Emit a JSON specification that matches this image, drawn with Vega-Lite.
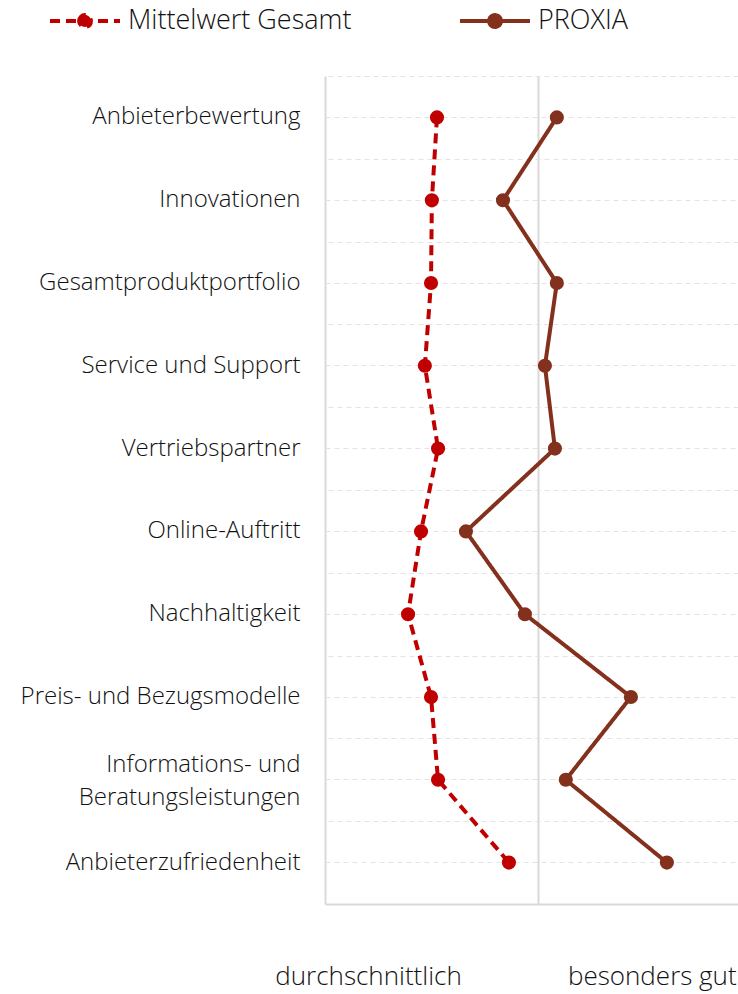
{
  "$schema": "https://vega.github.io/schema/vega-lite/v6.json",
  "width": 413,
  "height": 828,
  "autosize": "none",
  "padding": {"left": 325, "top": 76, "right": 0, "bottom": 90},
  "background": "white",
  "config": {"view": {"stroke": null}, "font": "Open Sans"},
  "data": {"values": [
    {"k": "Anbieterbewertung", "s": "Mittelwert Gesamt", "v": 0.526, "i": 1},
    {"k": "Innovationen", "s": "Mittelwert Gesamt", "v": 0.502, "i": 2},
    {"k": "Gesamtproduktportfolio", "s": "Mittelwert Gesamt", "v": 0.498, "i": 3},
    {"k": "Service und Support", "s": "Mittelwert Gesamt", "v": 0.469, "i": 4},
    {"k": "Vertriebspartner", "s": "Mittelwert Gesamt", "v": 0.531, "i": 5},
    {"k": "Online-Auftritt", "s": "Mittelwert Gesamt", "v": 0.451, "i": 6},
    {"k": "Nachhaltigkeit", "s": "Mittelwert Gesamt", "v": 0.390, "i": 7},
    {"k": "Preis- und Bezugsmodelle", "s": "Mittelwert Gesamt", "v": 0.498, "i": 8},
    {"k": "Informations- und Beratungsleistungen", "s": "Mittelwert Gesamt", "v": 0.531, "i": 9},
    {"k": "Anbieterzufriedenheit", "s": "Mittelwert Gesamt", "v": 0.864, "i": 10},
    {"k": "Anbieterbewertung", "s": "PROXIA", "v": 1.089, "i": 1},
    {"k": "Innovationen", "s": "PROXIA", "v": 0.836, "i": 2},
    {"k": "Gesamtproduktportfolio", "s": "PROXIA", "v": 1.089, "i": 3},
    {"k": "Service und Support", "s": "PROXIA", "v": 1.033, "i": 4},
    {"k": "Vertriebspartner", "s": "PROXIA", "v": 1.080, "i": 5},
    {"k": "Online-Auftritt", "s": "PROXIA", "v": 0.662, "i": 6},
    {"k": "Nachhaltigkeit", "s": "PROXIA", "v": 0.939, "i": 7},
    {"k": "Preis- und Bezugsmodelle", "s": "PROXIA", "v": 1.437, "i": 8},
    {"k": "Informations- und Beratungsleistungen", "s": "PROXIA", "v": 1.131, "i": 9},
    {"k": "Anbieterzufriedenheit", "s": "PROXIA", "v": 1.606, "i": 10}
  ]},
  "resolve": {"axis": {"x": "independent", "y": "independent"}},
  "encoding": {
    "y": {"field": "k", "type": "nominal",
      "sort": ["Anbieterbewertung", "Innovationen", "Gesamtproduktportfolio", "Service und Support", "Vertriebspartner", "Online-Auftritt", "Nachhaltigkeit", "Preis- und Bezugsmodelle", "Informations- und Beratungsleistungen", "Anbieterzufriedenheit"],
      "scale": {"paddingInner": 0, "paddingOuter": 0}},
    "x": {"field": "v", "type": "quantitative", "scale": {"domain": [0, 1.94], "nice": false, "zero": false}},
    "color": {"field": "s", "type": "nominal",
      "scale": {"domain": ["Mittelwert Gesamt", "PROXIA"], "range": ["#C00000", "#83301D"]},
      "legend": {"orient": "none", "legendX": -277, "legendY": -92, "direction": "horizontal", "title": null,
        "symbolType": "M-1,0L1,0M-0.17,0A0.17,0.17,0,1,1,0.17,0A0.17,0.17,0,1,1,-0.17,0",
        "symbolSize": 4900, "symbolStrokeWidth": 4,
        "labelFontSize": 27, "labelFont": "Open Sans", "labelFontWeight": 300, "labelColor": "#111111",
        "labelOffset": 6, "columnPadding": 100, "labelLimit": 400,
        "encode": {"symbols": {"update": {
          "stroke": {"scale": "color", "field": "value"},
          "fill": {"scale": "color", "field": "value"},
          "opacity": {"value": 1},
          "strokeDash": {"signal": "datum.value === 'Mittelwert Gesamt' ? [10,6] : [1,0]"}
        }}}
      }}
  },
  "layer": [
    {
      "mark": {"type": "line", "strokeWidth": 4},
      "encoding": {
        "strokeDash": {"field": "s", "type": "nominal", "scale": {"domain": ["Mittelwert Gesamt", "PROXIA"], "range": [[10, 6], [1, 0]]}, "legend": null},
        "order": {"field": "i", "type": "quantitative"},
        "y": {"field": "k", "type": "nominal",
          "sort": ["Anbieterbewertung", "Innovationen", "Gesamtproduktportfolio", "Service und Support", "Vertriebspartner", "Online-Auftritt", "Nachhaltigkeit", "Preis- und Bezugsmodelle", "Informations- und Beratungsleistungen", "Anbieterzufriedenheit"],
          "scale": {"paddingInner": 0, "paddingOuter": 0},
          "axis": {"orient": "left", "title": null, "ticks": false, "domain": false, "labelPadding": 25,
            "labelFontSize": 24, "labelFont": "Open Sans", "labelFontWeight": 300, "labelColor": "#111111", "labelLimit": 400,
            "labelLineHeight": 33,
            "labelExpr": "datum.label == 'Informations- und Beratungsleistungen' ? ['Informations- und ', 'Beratungsleistungen'] : datum.label",
            "labelOffset": {"condition": {"test": "datum.value == 'Informations- und Beratungsleistungen'", "value": -15}, "value": 0},
            "grid": true, "gridDash": [5, 4], "gridColor": "#E3E3E3", "gridWidth": 1, "bandPosition": 0.5}},
        "x": {"field": "v", "type": "quantitative", "scale": {"domain": [0, 1.94], "nice": false, "zero": false},
          "axis": {"orient": "bottom", "title": null, "values": [0.202, 1.535], "ticks": false, "grid": false,
            "domain": true, "domainColor": "#D9D9D9", "domainWidth": 2,
            "labelExpr": "datum.value < 1 ? 'durchschnittlich' : 'besonders gut'",
            "labelPadding": 59, "labelFontSize": 26, "labelFont": "Open Sans", "labelFontWeight": 300, "labelColor": "#111111",
            "labelFlush": false, "labelOverlap": false, "labelLimit": 400}}
      }
    },
    {
      "mark": {"type": "point", "filled": true, "size": 200, "opacity": 1},
      "encoding": {
        "y": {"field": "k", "type": "nominal",
          "sort": ["Anbieterbewertung", "Innovationen", "Gesamtproduktportfolio", "Service und Support", "Vertriebspartner", "Online-Auftritt", "Nachhaltigkeit", "Preis- und Bezugsmodelle", "Informations- und Beratungsleistungen", "Anbieterzufriedenheit"],
          "scale": {"paddingInner": 0, "paddingOuter": 0},
          "axis": {"orient": "right", "title": null, "labels": false, "ticks": false, "domain": false, "tickBand": "extent",
            "grid": true, "gridDash": [5, 4], "gridColor": "#E3E3E3", "gridWidth": 1}},
        "x": {"field": "v", "type": "quantitative", "scale": {"domain": [0, 1.94], "nice": false, "zero": false},
          "axis": {"orient": "top", "title": null, "values": [0, 1], "labels": false, "ticks": false, "domain": false,
            "grid": true, "gridColor": "#D9D9D9", "gridWidth": 2}}
      }
    }
  ]
}
